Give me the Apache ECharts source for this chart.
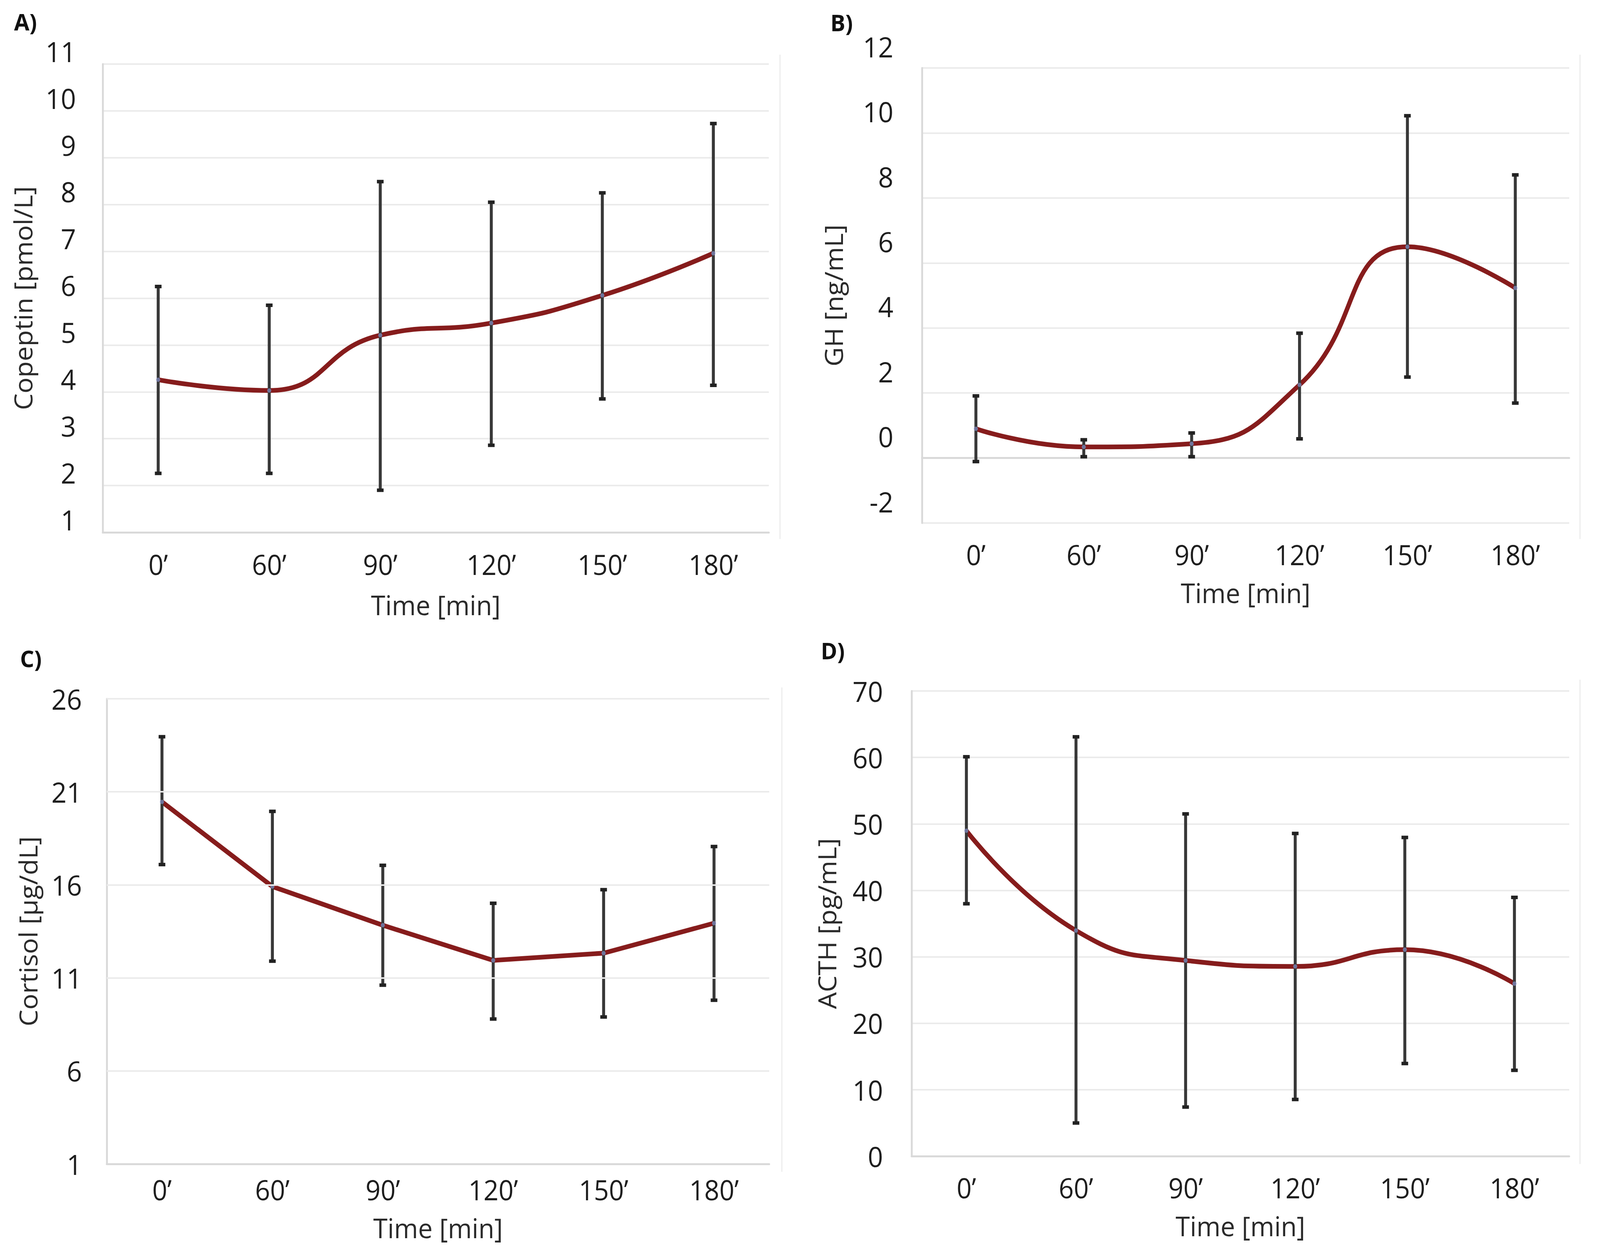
<!DOCTYPE html>
<html>
<head>
<meta charset="utf-8">
<script src="https://cdn.jsdelivr.net/npm/echarts@6/dist/echarts.min.js"></script>
<style>
html,body{margin:0;padding:0;background:#fff;overflow:hidden;}
#main{width:4316px;height:3190px;transform-origin:0 0;position:absolute;left:0;top:0;}
</style>
</head>
<body>
<div id="main"></div>
<script>
// ---- data ----
const categories = ['0\u2019', '60\u2019', '90\u2019', '120\u2019', '150\u2019', '180\u2019'];

const copeptinMean  = [4.26, 4.03, 5.21, 5.47, 6.06, 6.96];
const copeptinUpper = [6.25, 5.85, 8.49, 8.05, 8.25, 9.73];
const copeptinLower = [2.26, 2.26, 1.90, 2.86, 3.85, 4.14];

const ghMean  = [0.90, 0.34, 0.44, 2.25, 6.50, 5.23];
const ghUpper = [1.91, 0.56, 0.77, 3.84, 10.53, 8.71];
const ghLower = [-0.11, 0.04, 0.04, 0.59, 2.49, 1.69];

const cortisolMean  = [20.46, 15.91, 13.83, 11.94, 12.33, 13.94];
const cortisolUpper = [23.96, 19.95, 17.05, 15.01, 15.74, 18.06];
const cortisolLower = [17.09, 11.90, 10.61, 8.79, 8.90, 9.80];

const acthMean  = [48.98, 33.95, 29.45, 28.55, 31.07, 25.96];
const acthUpper = [60.10, 63.10, 51.50, 48.56, 47.96, 38.94];
const acthLower = [37.98, 4.99, 7.39, 8.53, 13.94, 12.92];

const cortisolTicks = [1, 6, 11, 16, 21, 26];

// ---- fit the 4316x3190 design into the actual viewport ----
const W = 4316, H = 3190;
const mainEl = document.getElementById('main');
const sx = (window.innerWidth || W) / W;
const sy = (window.innerHeight || H) / H;
mainEl.style.transform = 'scale(' + sx + ',' + sy + ')';

// ---- styles ----
const FONT = 'Open Sans';
const AXIS_GRAY = '#d9d9d9';
const GRID_GRAY = '#ebebeb';
const LINE_RED = '#861c1c';
const BAR_GRAY = '#383838';
const MARK_BLUE = '#7c84b5';

const chart = echarts.init(mainEl, null, {renderer: 'svg', width: W, height: H});

function errorRender(params, api) {
  const i = api.value(0);
  const lo = api.coord([i, api.value(1)]);
  const hi = api.coord([i, api.value(2)]);
  const cw = 9;
  return {
    type: 'group',
    children: [
      {type: 'line', shape: {x1: lo[0], y1: lo[1], x2: hi[0], y2: hi[1]}, style: {stroke: BAR_GRAY, lineWidth: 8}},
      {type: 'line', shape: {x1: hi[0] - cw, y1: hi[1], x2: hi[0] + cw, y2: hi[1]}, style: {stroke: '#222', lineWidth: 9}},
      {type: 'line', shape: {x1: lo[0] - cw, y1: lo[1], x2: lo[0] + cw, y2: lo[1]}, style: {stroke: '#222', lineWidth: 9}}
    ]
  };
}

function xAxisCfg(gridIndex, labelMargin, nameGap) {
  return {
    type: 'category', gridIndex: gridIndex, data: categories, boundaryGap: true,
    axisLine: {show: true, lineStyle: {color: AXIS_GRAY, width: 5}},
    axisTick: {show: false},
    axisLabel: {fontFamily: FONT, fontSize: 71, color: '#1e1e1e', margin: labelMargin},
    name: 'Time [min]', nameLocation: 'middle', nameGap: nameGap,
    nameTextStyle: {fontFamily: FONT, fontSize: 70, color: '#2a2a2a'}
  };
}

function yAxisCfg(gridIndex, name, min, max, interval, labelMargin, nameGap, lineH) {
  const lbl = {fontFamily: FONT, fontSize: 72, color: '#1e1e1e', margin: labelMargin};
  if (lineH > 0) {
    lbl.verticalAlign = 'bottom';
    lbl.lineHeight = lineH;
  }
  return {
    type: 'value', gridIndex: gridIndex, min: min, max: max, interval: interval,
    axisLine: {show: true, lineStyle: {color: AXIS_GRAY, width: 5}},
    axisTick: {show: false},
    splitLine: {show: true, lineStyle: {color: GRID_GRAY, width: 4}},
    axisLabel: lbl,
    name: name, nameLocation: 'middle', nameGap: nameGap, nameRotate: 90,
    nameTextStyle: {fontFamily: FONT, fontSize: 68, color: '#2a2a2a'}
  };
}

const grids = [
  {left: 277, right: 2242, top: 164, height: 1199},
  {left: 2487, right: 83, top: 174, height: 1165},
  {left: 288, right: 2241, top: 1789, height: 1191},
  {left: 2459, right: 83, top: 1769, height: 1191}
];

const yC = yAxisCfg(2, 'Cortisol [\u00b5g/dL]', 1, 26, null, 67, 180, 0);
delete yC.interval;
yC.axisLabel.customValues = cortisolTicks;
yC.axisTick = {show: false, customValues: cortisolTicks};
yC.splitLine = {show: false};

function meanSeries(idx, data, smooth) {
  return [
    {type: 'line', xAxisIndex: idx, yAxisIndex: idx, data: data, smooth: smooth,
     showSymbol: false, z: 2,
     lineStyle: {color: LINE_RED, width: 12}},
    {type: 'scatter', xAxisIndex: idx, yAxisIndex: idx, data: data, symbol: 'circle', symbolSize: 11, z: 4,
     itemStyle: {color: MARK_BLUE}}
  ];
}
function errSeries(idx, lower, upper) {
  return {type: 'custom', xAxisIndex: idx, yAxisIndex: idx, z: 3,
    data: categories.map((c, i) => [i, lower[i], upper[i]]),
    encode: {x: 0, y: [1, 2]}, renderItem: errorRender};
}

const PANEL_FONT = 'bold 60px "Open Sans"';

const option = {
  backgroundColor: '#ffffff',
  animation: false,
  grid: grids,
  xAxis: [xAxisCfg(0, 46, 150), xAxisCfg(1, 45, 143), xAxisCfg(2, 30, 128), xAxisCfg(3, 45, 143)],
  yAxis: [
    yAxisCfg(0, 'Copeptin [pmol/L]', 1, 11, 1, 72, 182, 66),
    yAxisCfg(1, 'GH [ng/mL]', -2, 12, 2, 77, 206, 110),
    yC,
    yAxisCfg(3, 'ACTH [pg/mL]', 0, 70, 10, 77, 196, 0)
  ],
  graphic: [
    {type: 'text', left: 38, top: 24, style: {text: 'A)', font: PANEL_FONT, fill: '#111'}},
    {type: 'text', left: 2240, top: 26, style: {text: 'B)', font: PANEL_FONT, fill: '#111'}},
    {type: 'text', left: 54, top: 1654, style: {text: 'C)', font: PANEL_FONT, fill: '#111'}},
    {type: 'text', left: 2214, top: 1634, style: {text: 'D)', font: PANEL_FONT, fill: '#111'}},
    {type: 'line', shape: {x1: 2104, y1: 140, x2: 2104, y2: 1380}, style: {stroke: '#f0f0f0', lineWidth: 4}},
    {type: 'line', shape: {x1: 4262, y1: 140, x2: 4262, y2: 1380}, style: {stroke: '#f0f0f0', lineWidth: 4}},
    {type: 'line', shape: {x1: 2109, y1: 1760, x2: 2109, y2: 3000}, style: {stroke: '#f0f0f0', lineWidth: 4}},
    {type: 'line', shape: {x1: 4262, y1: 1740, x2: 4262, y2: 2980}, style: {stroke: '#f0f0f0', lineWidth: 4}}
  ],
  series: [
    ...meanSeries(0, copeptinMean, 0.5), errSeries(0, copeptinLower, copeptinUpper),
    ...meanSeries(1, ghMean, 0.5), errSeries(1, ghLower, ghUpper),
    ...meanSeries(2, cortisolMean, false), errSeries(2, cortisolLower, cortisolUpper),
    ...meanSeries(3, acthMean, 0.5), errSeries(3, acthLower, acthUpper),
    {type: 'line', xAxisIndex: 2, yAxisIndex: 2, data: [], z: 1, silent: true,
     markLine: {silent: true, symbol: 'none', label: {show: false},
       lineStyle: {color: GRID_GRAY, width: 4, type: 'solid'},
       data: cortisolTicks.slice(1).map(v => ({yAxis: v}))}}
  ]
};
chart.setOption(option);
</script>
</body>
</html>
